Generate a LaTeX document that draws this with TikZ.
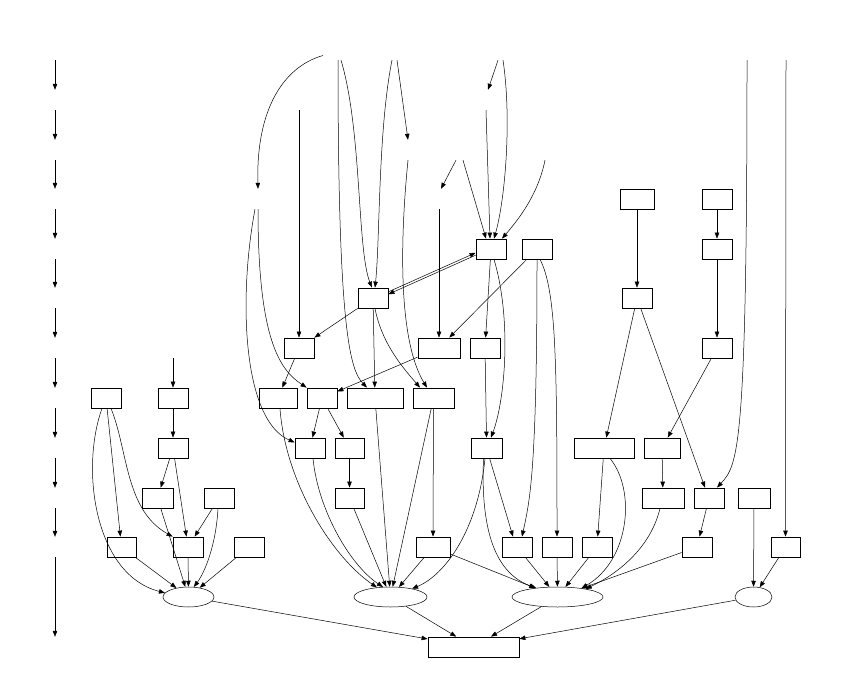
\documentclass[tikz,border=0pt]{standalone}
\usepackage{tikz}
\usetikzlibrary{arrows.meta,shapes.geometric}

\begin{document}
\begin{tikzpicture}[x=1pt,y=-1pt,
  box/.style={draw,line width=0.8pt,minimum width=30pt,minimum height=20pt,inner sep=0pt},
  oval/.style={draw,ellipse,line width=0.5pt,minimum height=20pt,inner sep=0pt},
  ghost/.style={minimum width=30pt,minimum height=20pt,inner sep=0pt},
  link/.style={-{Triangle[length=6pt,width=4.5pt]},line width=0.5pt}]
  \useasboundingbox (0,0) rectangle (843,698);

  % rank column
  \node[ghost] (k1) at (55,50) {};
  \node[ghost] (k2) at (55,100) {};
  \node[ghost] (k3) at (55,150) {};
  \node[ghost] (k4) at (55,199) {};
  \node[ghost] (k5) at (55,249) {};
  \node[ghost] (k6) at (55,298) {};
  \node[ghost] (k7) at (55,348) {};
  \node[ghost] (k8) at (55,398) {};
  \node[ghost] (k9) at (55,448) {};
  \node[ghost] (k10) at (55,498) {};
  \node[ghost] (k11) at (55,547) {};
  \node[ghost] (k13) at (55,647) {};
  \draw[link] (k1) -- (k2);
  \draw[link] (k2) -- (k3);
  \draw[link] (k3) -- (k4);
  \draw[link] (k4) -- (k5);
  \draw[link] (k5) -- (k6);
  \draw[link] (k6) -- (k7);
  \draw[link] (k7) -- (k8);
  \draw[link] (k8) -- (k9);
  \draw[link] (k9) -- (k10);
  \draw[link] (k10) -- (k11);
  \draw[link] (k11) -- (k13);

  % hidden nodes
  \node[ghost] (t1a) at (338,50) {};
  \node[ghost] (t1b) at (395,50) {};
  \node[ghost] (t1c) at (500,50) {};
  \node[ghost] (t1d) at (747,50) {};
  \node[ghost] (t1e) at (786,50) {};
  \node[ghost] (t2a) at (299,100) {};
  \node[ghost] (t2b) at (488,100) {};
  \node[ghost] (t3a) at (408,150) {};
  \node[ghost] (t3b) at (460,150) {};
  \node[ghost] (t3c) at (545,150) {};
  \node[ghost] (t4a) at (258,199) {};
  \node[ghost] (t4b) at (441,199) {};
  \node[ghost] (t7a) at (173,348) {};

  % boxes
  \node[box,minimum width=34pt] (n4a) at (637,199) {};
  \node[box] (n4b) at (717,199) {};
  \node[box] (n5a) at (491,249) {};
  \node[box] (n5b) at (537,249) {};
  \node[box] (n5c) at (717,249) {};
  \node[box] (n6a) at (373,298) {};
  \node[box] (n6b) at (637,298) {};
  \node[box] (n7a) at (299,348) {};
  \node[box,minimum width=42pt] (n7b) at (439,348) {};
  \node[box] (n7c) at (485,348) {};
  \node[box] (n7d) at (717,348) {};
  \node[box] (n8a) at (106,398) {};
  \node[box] (n8b) at (173,398) {};
  \node[box,minimum width=38pt] (n8c) at (278,398) {};
  \node[box] (n8d) at (322,398) {};
  \node[box,minimum width=56pt] (n8e) at (375,398) {};
  \node[box,minimum width=41pt] (n8f) at (433.5,398) {};
  \node[box] (n9a) at (173,448) {};
  \node[box] (n9b) at (310,448) {};
  \node[box,minimum width=29pt] (n9c) at (349.5,448) {};
  \node[box,minimum width=31pt] (n9d) at (486.5,448) {};
  \node[box,minimum width=60pt] (n9e) at (604,448) {};
  \node[box,minimum width=36pt] (n9f) at (662,448) {};
  \node[box,minimum width=31pt] (n10a) at (157.5,498) {};
  \node[box] (n10b) at (219,498) {};
  \node[box,minimum width=29pt] (n10c) at (349.5,498) {};
  \node[box,minimum width=42pt] (n10d) at (663,498) {};
  \node[box] (n10e) at (709,498) {};
  \node[box,minimum width=32pt] (n10f) at (754,498) {};
  \node[box,minimum width=29pt] (n11a) at (121.5,547) {};
  \node[box] (n11b) at (188,547) {};
  \node[box] (n11c) at (249,547) {};
  \node[box,minimum width=34pt] (n11d) at (433,547) {};
  \node[box] (n11e) at (517,547) {};
  \node[box] (n11f) at (557,547) {};
  \node[box] (n11g) at (597,547) {};
  \node[box] (n11h) at (697,547) {};
  \node[box,minimum width=29pt] (n11i) at (785.5,547) {};
  \node[oval,minimum width=51pt] (e12a) at (188.5,597) {};
  \node[oval,minimum width=73pt] (e12b) at (390.5,597) {};
  \node[oval,minimum width=91pt] (e12c) at (557.5,597) {};
  \node[oval,minimum width=37pt] (e12d) at (753.5,597) {};
  \node[box,minimum width=91pt] (n13a) at (473.5,647) {};

  % edges from the hidden nodes
  \draw[link] (t1a.200) .. controls (283,67) and (256,110) .. (t4a.north);
  \draw[link] (t1a.south) .. controls (338,330) and (350,370) .. ([xshift=-8pt]n8e.north);
  \draw[link] ([xshift=3pt]t1a.south) .. controls (362,130) and (357,250) .. ([xshift=-1pt]n6a.north);
  \draw[link] ([xshift=-3pt]t1b.south) .. controls (378,130) and (380,240) .. ([xshift=2pt]n6a.north);
  \draw[link] ([xshift=2pt]t1b.south) -- (t3a.north);
  \draw[link] ([xshift=-2pt]t1c.south) -- (t2b.north);
  \draw[link] ([xshift=3pt]t1c.south) .. controls (512,120) and (505,200) .. ([xshift=3pt]n5a.north);
  \draw[link] ([xshift=-2pt]t2b.south) -- ([xshift=-1pt]n5a.north);
  \draw[link] (t2a.south) -- (n7a.north);
  \draw[link] (t3a.south) .. controls (400,240) and (398,340) .. ([xshift=-6.5pt]n8f.north);
  \draw[link] ([xshift=-4pt]t3b.south) -- (t4b.north);
  \draw[link] ([xshift=3pt]t3b.south) -- ([xshift=-5pt]n5a.north);
  \draw[link] (t3c.south) .. controls (538,195) and (518,220) .. ([xshift=11pt]n5a.north);
  \draw[link] ([xshift=-2pt]t4b.south) -- (n7b.north);
  \draw[link] ([xshift=-3pt]t4a.south) .. controls (238,300) and (243,420) .. (n9b.160);
  \draw[link] (t4a.south) .. controls (258,340) and (280,370) .. (n8d.north west);
  \draw[link] (t1d.south) .. controls (747,450) and (738,465) .. ([xshift=8pt]n10e.north);
  \draw[link] (t1e.south) -- (n11i.north);
  \draw[link] (t7a.south) -- (n8b.north);

  % edges between boxes
  \draw[link] (n4a) -- (n6b);
  \draw[link] (n4b) -- (n5c);
  \draw[link] (n5c) -- (n7d);
  \draw[link] (n7d) -- (n9f);
  \draw[link] (n6b) -- (n9e);
  \draw[link] (n6b) -- ([xshift=-4pt]n10e.north);
  \draw[link] (n5b) -- (n7b);
  \draw[link] (n5b.south) .. controls (537,470) and (530,500) .. ([xshift=5pt]n11e.north);
  \draw[link] ([xshift=3pt]n5b.south) .. controls (556,290) and (557,360) .. (n11f.north);
  \draw[link] (n5a) -- (n7c);
  \draw[link] ([xshift=3pt]n5a.south) .. controls (512,320) and (505,400) .. ([xshift=4.5pt]n9d.north);
  \draw[link] (n7c) -- (n9d.north);
  \draw[link] ([yshift=1.2pt]n6a.18) -- ([yshift=1.2pt]n5a.198);
  \draw[link] ([yshift=-1.2pt]n5a.198) -- ([yshift=-1.2pt]n6a.18);
  \draw[link] (n6a) -- (n7a);
  \draw[link] (n6a) -- (n8e);
  \draw[link] ([xshift=2pt]n6a.south) .. controls (382,345) and (405,370) .. ([xshift=-13.5pt]n8f.north);
  \draw[link] (n7a) -- (n8c);
  \draw[link] (n7b) -- (n8d);
  \draw[link] (n8d) -- (n9b);
  \draw[link] (n8d) -- (n9c);
  \draw[link] (n9c) -- (n10c);
  \draw[link] (n8b) -- (n9a);
  \draw[link] (n9a) -- (n10a);
  \draw[link] (n9a) -- (n11b);
  \draw[link] (n8a) -- (n11a);
  \draw[link] ([xshift=-4pt]n8a.south) .. controls (80,470) and (95,575) .. (e12a.170);
  \draw[link] ([xshift=5pt]n8a.south) .. controls (128,450) and (125,510) .. (n11b.north west);
  \draw[link] (n10a) -- (e12a);
  \draw[link] (n10b) -- (n11b);
  \draw[link] ([xshift=-1pt]n10b.south) .. controls (216,545) and (205,572) .. (e12a.62);
  \draw[link] (n11a) -- (e12a);
  \draw[link] (n11b) -- (e12a);
  \draw[link] (n11c) -- (e12a);
  \draw[link] ([xshift=2pt]n8c.south) .. controls (285,480) and (330,555) .. (e12b.145);
  \draw[link] ([xshift=3pt]n9b.south) .. controls (318,510) and (350,565) .. (e12b.127);
  \draw[link] (n10c) -- (e12b);
  \draw[link] (n8e) -- (e12b);
  \draw[link] (n8f) -- (e12b);
  \draw[link] (n8f) -- (n11d);
  \draw[link] (n11d) -- (e12b);
  \draw[link] ([xshift=-1.5pt]n9d.south) .. controls (478,530) and (445,575) .. (e12b.21);
  \draw[link] (n9d) -- ([xshift=-4pt]n11e.north);
  \draw[link] ([xshift=-3pt]n9d.south) .. controls (480,540) and (500,575) .. (e12c.157);
  \draw[link] (n11d) -- (e12c);
  \draw[link] (n11e) -- (e12c);
  \draw[link] (n11f) -- (e12c);
  \draw[link] (n11g) -- (e12c);
  \draw[link] (n9e) -- (n11g);
  \draw[link] ([xshift=6pt]n9e.south) .. controls (636,490) and (630,560) .. (e12c.20);
  \draw[link] (n9f) -- (n10d);
  \draw[link] ([xshift=-3pt]n10d.south) .. controls (650,550) and (615,575) .. (e12c.16);
  \draw[link] (n10e) -- (n11h);
  \draw[link] (n11h) -- (e12c);
  \draw[link] (n10f) -- (e12d);
  \draw[link] (n11i) -- (e12d);
  \draw[link] (e12a) -- (n13a);
  \draw[link] (e12b) -- (n13a);
  \draw[link] (e12c) -- (n13a);
  \draw[link] (e12d) -- (n13a);
\end{tikzpicture}
\end{document}
